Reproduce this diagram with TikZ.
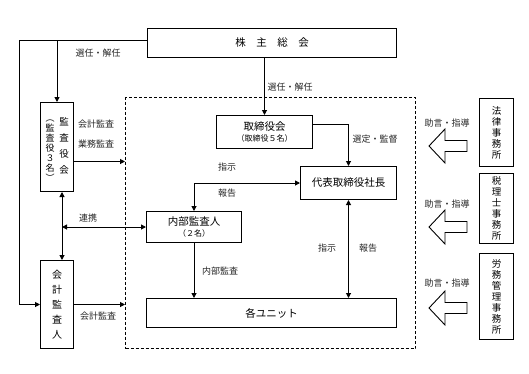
\documentclass[tikz,border=0pt]{standalone}
\usepackage{fontspec}
\setmainfont{Noto Sans CJK JP}
\usetikzlibrary{arrows.meta,calc}
\begin{document}
\begin{tikzpicture}[x=1pt,y=-1pt,
  box/.style={draw, line width=1pt, inner sep=0pt, anchor=north west, align=center,
    font=\fontsize{10.5}{12}\selectfont},
  vbox/.style={box, font=\fontsize{9.5}{11}\selectfont},
  txt/.style={inner sep=0pt, align=center},
  lbl/.style={inner sep=0pt, text=black!85, font=\fontsize{9}{10}\selectfont},
  arr/.style={line width=1pt, -{Triangle[length=5pt,width=5pt]}},
  darr/.style={line width=1pt, {Triangle[length=5pt,width=5pt]}-{Triangle[length=5pt,width=5pt]}},
  blk/.style={draw, line width=0.9pt, fill=white}]
\useasboundingbox (0,0) rectangle (529,373);
\fill[white] (0,0) rectangle (529,373);

% boxes
\node[box, minimum width=249pt, minimum height=29pt] (sh) at (147,28) {株\quad 主\quad 総\quad 会};
\node[box, minimum width=33pt, minimum height=89pt] (ka) at (40,102) {};
\node[txt, font=\fontsize{9.5}{16}\selectfont] (kar) at ($(ka.center)+(7,-1)$) {監\\査\\役\\会};
\node[txt, font=\fontsize{9}{10}\selectfont] (kal) at ($(ka.center)+(-7,4)$) {︵\\監\\査\\役\\３\\名\\︶};
\node[box, minimum width=33pt, minimum height=88pt, font=\fontsize{10}{15}\selectfont] (kk) at (40,260) {会\\計\\監\\査\\人};
\node[draw, line width=1pt, dash pattern=on 3pt off 2pt, anchor=north west, minimum width=290pt, minimum height=251pt, inner sep=0pt] (db) at (125,97) {};
\node[box, minimum width=96pt, minimum height=33pt] (tb) at (216,115) {取締役会\\[-1pt]{\fontsize{8}{10}\selectfont （取締役５名）}};
\node[box, minimum width=96pt, minimum height=33pt] (dt) at (300,166) {代表取締役社長};
\node[box, minimum width=95pt, minimum height=31pt] (nb) at (146,211) {内部監査人\\[-1pt]{\fontsize{8}{10}\selectfont （２名）}};
\node[box, minimum width=250pt, minimum height=29pt] (un) at (146,298) {各ユニット};
\node[vbox, minimum width=34pt, minimum height=68pt] (ho) at (479,98) {法\\律\\事\\務\\所};
\node[vbox, minimum width=34pt, minimum height=70pt] (ze) at (479,173) {税\\理\\士\\事\\務\\所};
\node[vbox, minimum width=34pt, minimum height=86pt] (ro) at (479,253) {労\\務\\管\\理\\事\\務\\所};

% connectors
\coordinate (shl) at ([yshift=3pt]sh.west);
\draw[arr] (shl) -- ++(-128,0) |- (kk.west);
\draw[arr] (ka.north |- shl) -- (ka.north);
\draw[arr] (sh.south -| tb.north) -- (tb.north);
\draw[arr] ([yshift=8pt]tb.east) -| (dt.north);
\draw[darr] (dt.west) -| (nb.north);
\coordinate (vx) at ([xshift=5pt]ka.south);
\draw[darr] (vx) -- (vx |- kk.north);
\draw[darr] (vx |- nb.west) -- (nb.west);
\draw[arr] ([yshift=-14.5pt]ka.east) coordinate (kaout) -- (kaout -| db.west);
\draw[arr] (kk.east) -- (kk.east -| db.west);
\draw[arr] (nb.south) -- (nb.south |- un.north);
\draw[darr] (dt.south) -- (dt.south |- un.north);

% block arrows
\foreach \yc/\nm in {146/ba1,227/ba2,308/ba3}{
  \draw[blk] (429,\yc) -- (445,\yc-17) -- (445,\yc-5.5) -- (467,\yc-5.5) -- (467,\yc+5.5) -- (445,\yc+5.5) -- (445,\yc+17) -- cycle;
}

% labels
\node[lbl] (l1) at (98,53) {選任・解任};
\node[lbl] (l2) at (290,87) {選任・解任};
\node[lbl] (l3) at (96,124) {会計監査};
\node[lbl] (l4) at (96,144) {業務監査};
\node[lbl] (l5) at (375,139) {選定・監督};
\node[lbl] (l6) at (227,167) {指示};
\node[lbl] (l7) at (227,193) {報告};
\node[lbl] (l8) at (88,218) {連携};
\node[lbl] (l9) at (220,271) {内部監査};
\node[lbl] (l10) at (98,316) {会計監査};
\node[lbl] (l11) at (327,248) {指示};
\node[lbl] (l12) at (368,248) {報告};
\node[lbl] (l13) at (447,123) {助言・指導};
\node[lbl] (l14) at (447,204) {助言・指導};
\node[lbl] (l15) at (447,283) {助言・指導};
\end{tikzpicture}
\end{document}
